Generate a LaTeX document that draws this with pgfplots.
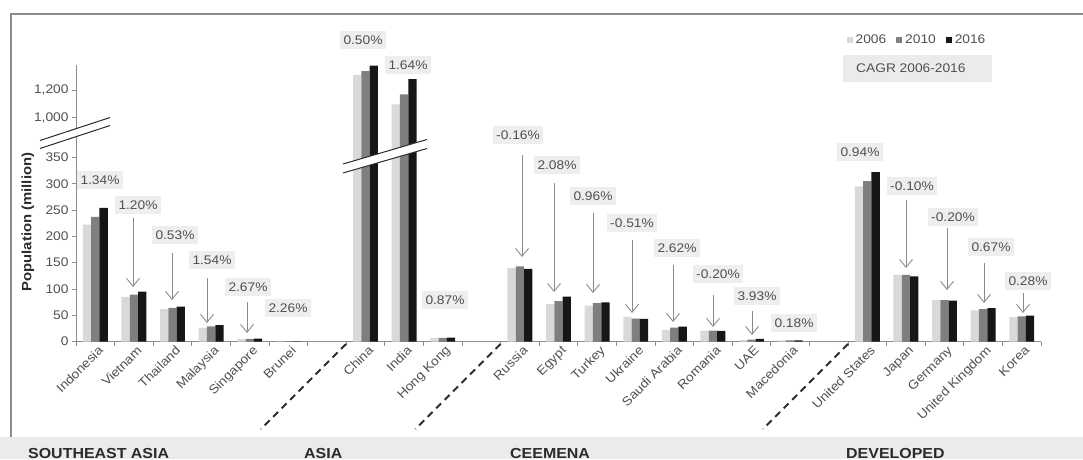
\documentclass[border=0pt]{standalone}
\usepackage{pgfplots}
\pgfplotsset{compat=1.18}
\usepackage{pgfplotstable}
\usepackage{fontspec}
\setmainfont[FakeStretch=1.1]{Liberation Sans}
\usetikzlibrary{arrows.meta}
\definecolor{c06}{HTML}{D9D9D9}
\definecolor{c10}{HTML}{7F7F7F}
\definecolor{c16}{HTML}{161616}
\definecolor{txt}{HTML}{505050}
\definecolor{boxg}{HTML}{EEEEEE}
\definecolor{bandg}{HTML}{EBEBEB}
\definecolor{axg}{HTML}{8C8C8C}
\definecolor{arr}{HTML}{8A8A8A}
\definecolor{dark}{HTML}{2B2B2B}

\pgfplotstableread{
x a b c
0 222 237 254
1 85 89 95
2 61.5 64 66.5
3 26 29 31
4 4.4 5.1 5.6
5 0.4 0.4 0.4
7 1311 1338 1379
8 1096 1169 1281
9 6.9 7.1 7.4
11 140 143 138
12 71 77 85.5
13 68 73 74.5
14 47 43.5 43
15 22 26.5 28.5
16 20.8 20.5 20.3
17 2.5 3.5 5
18 2.0 2.1 2.1
20 295 305 322
21 126.5 126.5 124
22 78.6 78.5 77.5
23 59 61.5 63.5
24 46.5 48 49
}\popdata

\tikzset{
  cagr/.style={fill=boxg, inner xsep=3.5pt, inner ysep=4.5pt, text=txt},
  darr/.style={arr, line width=0.9pt, -{Straight Barb[length=8pt,width=13pt,line width=0.9pt]}},
  sep/.style={dark, line width=2pt, dash pattern=on 7pt off 5pt},
}

\begin{document}
\begin{tikzpicture}[font=\fontsize{12.5}{14}\selectfont]
\useasboundingbox (0pt,0pt) rectangle (1083pt,-459pt);
\fill[bandg] (0pt,-437pt) rectangle (1083pt,-459pt);
\draw[axg, line width=1.2pt] (11pt,-437pt) -- (11pt,-14pt) -- (1083pt,-14pt);
\begin{axis}[
  at={(76pt,-341.5pt)}, anchor=south west,
  scale only axis, width=965pt, height=276.5pt,
  xmin=-0.5, xmax=24.5, ymin=0, ymax=525.7,
  axis x line=bottom, axis y line=left,
  axis line style={draw=axg, line width=0.8pt, -},
  ybar=0pt, bar width=8.3pt,
  y filter/.expression={(y>600) ? (426+(y-1000)*0.26) : y},
  xtick={0,1,2,3,4,5,7,8,9,11,12,13,14,15,16,17,18,20,21,22,23,24},
  xticklabels={Indonesia,Vietnam,Thailand,Malaysia,Singapore,Brunei,China,India,Hong Kong,Russia,Egypt,Turkey,Ukraine,Saudi Arabia,Romania,UAE,Macedonia,United States,Japan,Germany,United Kingdom,Korea},
  minor xtick={-0.5,0.5,...,24.5},
  ytick={0,50,100,150,200,250,300,350,426,478},
  yticklabels={0,50,100,150,200,250,300,350,{1,000},{1,200}},
  tick align=outside,
  major tick length=4pt, minor tick length=4pt,
  major x tick style={draw=none},
  minor x tick style={draw=axg, line width=0.8pt},
  major y tick style={draw=axg, line width=0.8pt},
  ticklabel style={font=\fontsize{12.5}{14}\selectfont, text=txt},
  xticklabel style={rotate=45, anchor=north east, inner sep=1pt, xshift=3pt},
  legend style={at={(axis description cs:0.8715,1.0904)}, anchor=center,
    draw=none, fill=none, font=\fontsize{12.5}{14}\selectfont, text=txt,
    legend columns=3, /tikz/every even column/.append style={column sep=8pt},
    /tikz/every odd column/.append style={column sep=1pt}},
  legend image code/.code={\fill[#1] (0pt,-3pt) rectangle (6pt,3pt);},
  clip=false,
]
\addplot[fill=c06, draw=none] table[x=x, y=a] {\popdata};
\addplot[fill=c10, draw=none] table[x=x, y=b] {\popdata};
\addplot[fill=c16, draw=none] table[x=x, y=c] {\popdata};
\legend{2006,2010,2016}
\end{axis}
\begin{scope}[x=1pt,y=-1pt]
% axis break marks
\fill[white] (40,140.5) -- (110,117.5) -- (110,125.5) -- (40,148.5) -- cycle;
\draw[dark, line width=1pt] (40,140.5) -- (110,117.5) (40,148.5) -- (110,125.5);
\fill[white] (343,164) -- (427,139.5) -- (427,148.5) -- (343,173) -- cycle;
\draw[dark, line width=1pt] (343,164) -- (427,139.5) (343,173) -- (427,148.5);
% separators
\draw[sep] (346,344) -- (261,429);
\draw[sep] (500.5,344) -- (415.5,429);
\draw[sep] (848,344) -- (763,429);
% y label
\node[rotate=90, font=\fontsize{13.5}{15}\selectfont\bfseries, text=dark] at (28,222) {Population (million)};
% CAGR box
\fill[bandg] (843,55) rectangle (992,82);
\node[anchor=west, text=txt, inner sep=0pt] at (856,68.5) {CAGR 2006-2016};
% arrows
\draw[darr] (133,218) -- (133,287);
\draw[darr] (172,253) -- (172,300);
\draw[darr] (207,278) -- (207,323);
\draw[darr] (247,302) -- (247,333);
\draw[darr] (522,155) -- (522,257);
\draw[darr] (554,183) -- (554,292);
\draw[darr] (593,213) -- (593,293);
\draw[darr] (632,240) -- (632,313);
\draw[darr] (673,265) -- (673,322);
\draw[darr] (713,295) -- (713,327);
\draw[darr] (752,311) -- (752,335);
\draw[darr] (906,200) -- (906,268);
\draw[darr] (947,228) -- (947,290);
\draw[darr] (984,263) -- (984,303);
\draw[darr] (1023,293) -- (1023,313);
% CAGR labels
\node[cagr] at (100,180) {1.34\%};
\node[cagr] at (138,205) {1.20\%};
\node[cagr] at (175,235) {0.53\%};
\node[cagr] at (212,260) {1.54\%};
\node[cagr] at (248,287) {2.67\%};
\node[cagr] at (288,308) {2.26\%};
\node[cagr] at (363,40) {0.50\%};
\node[cagr] at (408,65) {1.64\%};
\node[cagr] at (445,300) {0.87\%};
\node[cagr] at (518,135) {-0.16\%};
\node[cagr] at (557,165) {2.08\%};
\node[cagr] at (593,196) {0.96\%};
\node[cagr] at (632,223) {-0.51\%};
\node[cagr] at (677,248) {2.62\%};
\node[cagr] at (718,274) {-0.20\%};
\node[cagr] at (757,296) {3.93\%};
\node[cagr] at (794,323) {0.18\%};
\node[cagr] at (860,152) {0.94\%};
\node[cagr] at (912,186) {-0.10\%};
\node[cagr] at (953,217) {-0.20\%};
\node[cagr] at (991,247) {0.67\%};
\node[cagr] at (1028,281) {0.28\%};
% group labels
\begin{scope}[every node/.style={anchor=base west, inner sep=0pt, text=dark, font=\fontsize{14.5}{16}\selectfont\bfseries}]
\node at (28,458) {SOUTHEAST ASIA};
\node at (304,458) {ASIA};
\node at (510,458) {CEEMENA};
\node at (846,458) {DEVELOPED};
\end{scope}
\end{scope}
\end{tikzpicture}
\end{document}
